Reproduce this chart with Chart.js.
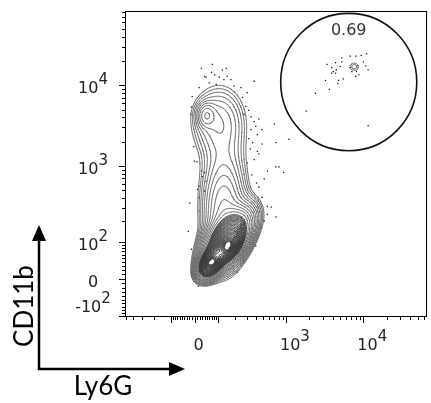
<!DOCTYPE html>
<html>
<head>
<meta charset="utf-8">
<script src="https://cdn.jsdelivr.net/npm/chart.js@4.4.1/dist/chart.umd.min.js"></script>
<style>
  html, body { margin: 0; padding: 0; background: #fff; }
  canvas { display: block; }
</style>
</head>
<body>
<canvas id="facs" width="431" height="403"></canvas>
<script>
// display scale is a biexponential (asinh) transform, in decades
const xWidth = 132;
const yWidth = 80;
const xRange = [-0.897, 3.0];
const yRange = [-0.46, 3.33];

const xTickValues = [0, 1000, 10000];
const xTickLabels = [['0', ''], ['10', '3'], ['10', '4']];
const yTickValues = [-100, 0, 100, 1000, 10000];
const yTickLabels = [['-10', '2'], ['0', ''], ['10', '2'], ['10', '3'], ['10', '4']];

// population shape (display units): centres, spreads, tilt, height
const popX   = [0.22, 0.43, 0.22, 0.43, 0.42, 0.38, 0.38, 0.15, 0.30, 0.72, 2.06];
const popY   = [0.22, 0.42, 0.22, 0.42, 0.50, 0.80, 1.35, 2.04, 1.97, 0.85, 2.64];
const popSX  = [0.08, 0.08, 0.035, 0.03, 0.15, 0.15, 0.18, 0.07, 0.20, 0.12, 0.06];
const popSY  = [0.09, 0.09, 0.03, 0.04, 0.17, 0.35, 0.45, 0.09, 0.25, 0.14, 0.05];
const popRho = [0.40, 0.40, 0.30, 0.30, 0.50, 0.00, 0.00, 0.00, 0.00, 0.00, 0.00];
const popAmp = [0.50, 0.40, 0.50, 0.45, 0.25, 0.030, 0.0075, 0.016, 0.012, 0.004, 0.0045];

// contour levels: coarse steps in the sparse part, fine steps in the dense part
const contourLow = 0.003;
const stepSparse = 1.3, countSparse = 12;
const stepDense = 1.11, countDense = 24;

// outlier events (display units)
const outX = [0.09, 0.23, 0.13, 0.22, 0.26, 0.32, 0.36, 0.41, 0.42, 0.47, 0.38, 0.19, 0.28, 0.51, 0.60, 0.77, 0.68, 0.06, 0.15,
  -0.04, -0.03, -0.05,
  0.62, 0.64, 0.73, 0.77, 0.83, 0.79, 0.87, 0.81, 0.73, 1.03, 1.05, 1.22, 0.87, 0.81, 0.83, 0.77, 0.94, 1.05, 1.09, 1.15,
  0.90, 0.83, 0.87, 0.94, 0.99, 0.94, 1.05, 0.90, 0.86, 0.70, 0.75, 0.72, 0.68, 0.74, 0.80, 0.70, 0.66,
  0.00, 0.09, 0.13, 0.10, 0.06, 0.13, 0.06, 0.15, 0.03, 0.04, -0.01, -0.06, -0.08,
  -0.04, 0.79, 0.64, 0.55, 0.05,
  1.71, 1.77, 1.79, 1.82, 1.90, 1.90, 1.88, 1.83, 1.77, 1.82, 1.69, 1.86, 1.92, 1.85, 1.74, 1.56, 1.44, 2.24,
  2.01, 2.08, 2.15, 2.22, 2.18, 2.21, 2.24, 2.12, 2.08, 2.03, 2.09, 2.01];
const outY = [2.62, 2.67, 2.52, 2.57, 2.54, 2.51, 2.60, 2.62, 2.52, 2.48, 2.48, 2.44, 2.42, 2.40, 2.38, 2.46, 2.32, 2.38, 2.51,
  2.14, 2.27, 2.05,
  2.26, 2.05, 2.02, 1.96, 1.99, 1.90, 1.86, 1.80, 1.86, 1.93, 1.70, 1.74, 1.68, 1.59, 1.56, 1.49, 1.35, 1.40, 1.40, 1.33,
  1.25, 1.15, 1.02, 0.91, 0.90, 0.81, 0.78, 0.73, 0.65, 1.75, 1.70, 1.62, 1.45, 1.30, 1.20, 2.10, 2.15,
  1.47, 1.35, 1.33, 1.28, 1.16, 1.10, 1.02, 1.22, 1.46, 1.12, 1.65, 0.95, 0.60,
  0.38, 0.42, 0.23, 0.10, -0.08,
  2.67, 2.63, 2.58, 2.69, 2.75, 2.70, 2.64, 2.60, 2.56, 2.56, 2.47, 2.47, 2.49, 2.43, 2.36, 2.31, 2.09, 1.91,
  2.77, 2.77, 2.78, 2.80, 2.70, 2.65, 2.60, 2.54, 2.52, 2.58, 2.58, 2.63];

// circular gate
const gateX = 1.99, gateY = 2.45, gateRX = 0.878, gateRY = 0.85;
const gateLabel = '0.69';
const gateLabelY = 3.09;

const xTitle = 'Ly6G';
const yTitle = 'CD11b';

function toDisplay(v, w) {
  return Math.asinh(v / w) / Math.LN10;
}

function density(x, y) {
  let s = 0;
  for (let k = 0; k < popX.length; k++) {
    const u = (x - popX[k]) / popSX[k];
    const v = (y - popY[k]) / popSY[k];
    const r = popRho[k];
    s += popAmp[k] * Math.exp(-0.5 * (u * u - 2 * r * u * v + v * v) / (1 - r * r));
  }
  return s;
}

// density grid + marching squares
const step = 0.01;
const gx0 = -0.4, gx1 = 2.45, gy0 = -0.35, gy1 = 2.95;
const nx = Math.round((gx1 - gx0) / step) + 1;
const ny = Math.round((gy1 - gy0) / step) + 1;
const grid = new Float64Array(nx * ny);
for (let j = 0; j < ny; j++)
  for (let i = 0; i < nx; i++)
    grid[j * nx + i] = density(gx0 + i * step, gy0 + j * step);

const cases = {1: [[3, 0]], 2: [[0, 1]], 3: [[3, 1]], 4: [[1, 2]], 5: [[3, 0], [1, 2]], 6: [[0, 2]], 7: [[3, 2]],
  8: [[2, 3]], 9: [[0, 2]], 10: [[0, 1], [2, 3]], 11: [[1, 2]], 12: [[3, 1]], 13: [[0, 1]], 14: [[3, 0]]};

function contour(level) {
  const pts = [];
  for (let j = 0; j < ny - 1; j++) {
    for (let i = 0; i < nx - 1; i++) {
      const a = grid[j * nx + i], b = grid[j * nx + i + 1];
      const c = grid[(j + 1) * nx + i + 1], d = grid[(j + 1) * nx + i];
      const idx = (a > level ? 1 : 0) | (b > level ? 2 : 0) | (c > level ? 4 : 0) | (d > level ? 8 : 0);
      if (idx === 0 || idx === 15) continue;
      const x = gx0 + i * step, y = gy0 + j * step;
      const edge = [
        () => ({x: x + step * (level - a) / (b - a), y: y}),
        () => ({x: x + step, y: y + step * (level - b) / (c - b)}),
        () => ({x: x + step * (level - d) / (c - d), y: y + step}),
        () => ({x: x, y: y + step * (level - a) / (d - a)})
      ];
      for (const [e1, e2] of cases[idx]) {
        pts.push(edge[e1](), edge[e2](), {x: null, y: null});
      }
    }
  }
  return pts;
}

const levels = [];
let lv = contourLow;
for (let k = 0; k < countSparse; k++) { levels.push(lv); lv *= stepSparse; }
for (let k = 0; k < countDense; k++) { levels.push(lv); lv *= stepDense; }

const datasets = levels.map((level, k) => ({
  data: contour(level),
  showLine: true,
  spanGaps: false,
  borderColor: k < countSparse ? '#606060' : '#3c3c3c',
  borderWidth: 1,
  pointRadius: 0,
  tension: 0
}));
datasets.push({
  data: outX.map((v, i) => ({x: v, y: outY[i]})),
  showLine: false,
  pointStyle: 'rect',
  pointRadius: 0.9,
  backgroundColor: '#111',
  borderWidth: 0
});

function supLabel(ctx, base, sup, left, cy) {
  ctx.font = '16px "DejaVu Sans"';
  ctx.textAlign = 'left';
  ctx.textBaseline = 'middle';
  ctx.fillText(base, left, cy);
  const wb = ctx.measureText(base).width;
  if (sup) {
    ctx.font = '15px "DejaVu Sans"';
    ctx.fillText(sup, left + wb, cy - 9);
  }
}

function labelWidths(ctx, base, sup) {
  ctx.font = '16px "DejaVu Sans"';
  const wb = ctx.measureText(base).width;
  ctx.font = '15px "DejaVu Sans"';
  const ws = sup ? ctx.measureText(sup).width : 0;
  return [wb, ws];
}

function axisTicks() {
  const t = [];
  for (let m = 10; m < 100; m += 10) t.push([m, 3], [-m, 3]);
  t.push([0, 6], [100, 6], [-100, 6]);
  for (let d = 100; d < 1e5; d *= 10) {
    for (let m = 2; m < 10; m++) t.push([m * d, 3], [-m * d, 3]);
    t.push([d * 10, 6], [-d * 10, 6]);
  }
  return t;
}

const facsDecor = {
  id: 'facsDecor',
  afterDatasetsDraw(chart) {
    const {ctx, chartArea: a} = chart;
    const xs = chart.scales.x, ys = chart.scales.y;
    ctx.save();

    // frame
    ctx.strokeStyle = '#000';
    ctx.lineWidth = 1;
    ctx.strokeRect(a.left + 0.5, a.top + 0.5, a.right - a.left - 1, a.bottom - a.top - 1);

    // ticks
    ctx.beginPath();
    for (const [v, len] of axisTicks()) {
      const px = xs.getPixelForValue(toDisplay(v, xWidth));
      if (px >= a.left - 0.5 && px <= a.right + 0.5) {
        const p = Math.round(px) + 0.5;
        ctx.moveTo(p, a.bottom);
        ctx.lineTo(p, a.bottom + len);
      }
      const py = ys.getPixelForValue(toDisplay(v, yWidth));
      if (py >= a.top - 0.5 && py <= a.bottom + 0.5) {
        const p = Math.round(py) - 0.5;
        ctx.moveTo(a.left + 1, p);
        ctx.lineTo(a.left - len, p);
      }
    }
    ctx.stroke();

    // tick labels
    ctx.fillStyle = '#222';
    xTickValues.forEach((v, i) => {
      const px = xs.getPixelForValue(toDisplay(v, xWidth));
      const [base, sup] = xTickLabels[i];
      const [wb] = labelWidths(ctx, base, sup);
      supLabel(ctx, base, sup, px + 4 - wb / 2, a.bottom + 29);
    });
    yTickValues.forEach((v, i) => {
      const py = ys.getPixelForValue(toDisplay(v, yWidth));
      const [base, sup] = yTickLabels[i];
      const [wb, ws] = labelWidths(ctx, base, sup);
      supLabel(ctx, base, sup, a.left - 32 - (wb + ws) / 2, Math.min(py + 3, a.bottom - 9));
    });

    // gate
    const cx = xs.getPixelForValue(gateX), cy = ys.getPixelForValue(gateY);
    const rx = xs.getPixelForValue(gateX + gateRX) - cx;
    const ry = cy - ys.getPixelForValue(gateY + gateRY);
    ctx.beginPath();
    ctx.ellipse(cx, cy, rx, ry, 0, 0, Math.PI * 2);
    ctx.lineWidth = 1.6;
    ctx.strokeStyle = '#111';
    ctx.stroke();
    ctx.font = '16px "DejaVu Sans"';
    ctx.fillStyle = '#333';
    ctx.textAlign = 'center';
    ctx.textBaseline = 'middle';
    ctx.fillText(gateLabel, cx, ys.getPixelForValue(gateLabelY));

    // axis arrows and titles
    ctx.strokeStyle = '#000';
    ctx.fillStyle = '#000';
    ctx.lineWidth = 2.5;
    ctx.beginPath();
    ctx.moveTo(39, 238);
    ctx.lineTo(39, 369);
    ctx.lineTo(172, 369);
    ctx.stroke();
    ctx.beginPath();
    ctx.moveTo(39, 225); ctx.lineTo(32, 241); ctx.lineTo(46, 241); ctx.closePath();
    ctx.fill();
    ctx.beginPath();
    ctx.moveTo(185, 369); ctx.lineTo(169, 362); ctx.lineTo(169, 376); ctx.closePath();
    ctx.fill();

    ctx.font = '26px Lato';
    ctx.textAlign = 'center';
    ctx.textBaseline = 'alphabetic';
    ctx.fillText(xTitle, 103, 395);
    ctx.translate(33, 306);
    ctx.rotate(-Math.PI / 2);
    ctx.fillText(yTitle, 0, 0);
    ctx.restore();
  }
};

Chart.defaults.font.family = '"DejaVu Sans"';
new Chart(document.getElementById('facs'), {
  type: 'scatter',
  data: {datasets: datasets},
  options: {
    responsive: false,
    animation: false,
    events: [],
    layout: {padding: {left: 125, right: 2, top: 11, bottom: 86}},
    plugins: {legend: {display: false}, tooltip: {enabled: false}},
    scales: {
      x: {type: 'linear', min: xRange[0], max: xRange[1], display: false},
      y: {type: 'linear', min: yRange[0], max: yRange[1], display: false}
    }
  },
  plugins: [facsDecor]
});
</script>
</body>
</html>
